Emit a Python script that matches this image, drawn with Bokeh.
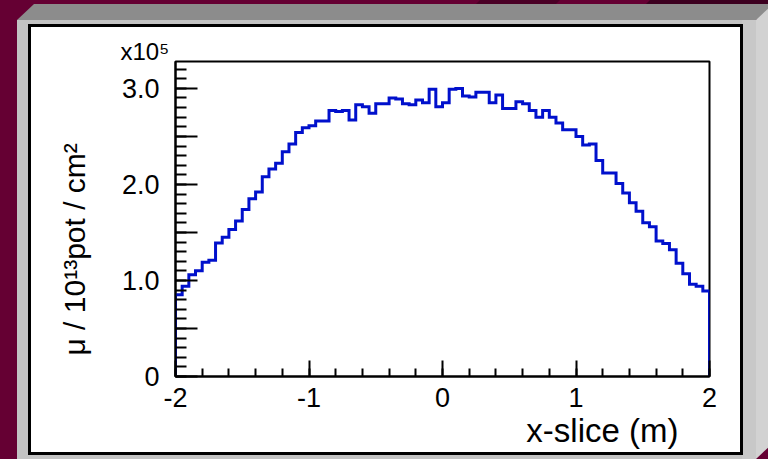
import urllib.parse
import numpy as np
from bokeh.plotting import figure
from bokeh.models import FixedTicker, Range1d, Title
from bokeh.embed import file_html
from bokeh.resources import INLINE

# ---------------- data ----------------
x_lo, x_hi = -2.0, 2.0
n_bins = 80
mu_per_bin = [
    85000, 94000, 106000, 110000, 119000, 121000, 139000, 145000, 153000, 162000,
    174000, 185000, 192000, 208000, 216000, 222000, 234000, 242000, 254000, 259000,
    261000, 266000, 266000, 277000, 276000, 277000, 267000, 283000, 281000, 274000,
    284000, 284000, 290000, 289000, 284000, 283000, 288000, 285000, 299000, 281000,
    285000, 299000, 300000, 292000, 291000, 296000, 296000, 285000, 293000, 279000,
    279000, 286000, 284000, 277000, 270000, 277000, 270000, 264000, 257000, 257000,
    250000, 241000, 242000, 225000, 212000, 212000, 201000, 191000, 181000, 172000,
    160000, 156000, 141000, 138500, 132000, 118000, 107000, 96000, 94000, 89000,
]
x_ticks = [-2, -1, 0, 1, 2]
x_tick_labels = {-2: "-2", -1: "-1", 0: "0", 1: "1", 2: "2"}
x_minor_ticks = [round(v, 1) for v in np.arange(-2.0, 2.01, 0.2)]
y_ticks = [0, 50000, 100000, 150000, 200000, 250000, 300000]
y_minor_ticks = list(range(0, 330000, 10000))
y_tick_labels = {0: "0", 50000: "", 100000: "1.0", 150000: "", 200000: "2.0", 250000: "", 300000: "3.0"}
y_max = 328000
x_title = "x-slice (m)"
y_title = "μ / 10¹³pot / cm²"
y_multiplier = "x10⁵"

# ---------------- layout constants (canvas px) ----------------
W, H = 768, 459
FL, FR, FT, FB = 175, 709, 61, 376   # frame edges
FONT = "Liberation Sans"

# page decoration (maroon background, bevelled grey frame, white pad) as a CSS background
svg_bg = (
    '<svg xmlns="http://www.w3.org/2000/svg" width="768" height="459">'
    '<rect x="0" y="0" width="768" height="459" fill="#650033"/>'
    '<polygon points="480,0 560,0 556,4 476,4" fill="#4a0026"/>'
    '<polygon points="650,0 768,0 768,4 646,4" fill="#3c0020"/>'
    '<polygon points="17,20 34,4 790,4 756,20" fill="#8c8c8c"/>'
    '<polygon points="756,20 773,4 773,443 756,459" fill="#d2d2d2"/>'
    '<rect x="17" y="20" width="739" height="450" fill="#c3c3c3"/>'
    '<rect x="742" y="20" width="14" height="450" fill="#c8c8c8"/>'
    '<rect x="29.5" y="25.5" width="712" height="428" fill="#ffffff" stroke="#000000" stroke-width="3"/>'
    '</svg>'
)
bg_uri = "data:image/svg+xml," + urllib.parse.quote(svg_bg, safe="")

p = figure(width=W, height=H, output_backend="svg", toolbar_location=None,
           x_range=Range1d(x_lo, x_hi), y_range=Range1d(0, y_max),
           min_border_left=FL, min_border_right=W - FR,
           min_border_top=FT, min_border_bottom=H - FB)
p.styles = {"background-image": f'url("{bg_uri}")',
            "background-repeat": "no-repeat",
            "background-size": f"{W}px {H}px"}
p.border_fill_color = None
p.background_fill_color = "white"
p.outline_line_color = "black"
p.outline_line_width = 2
p.outline_line_alpha = 1.0
p.xgrid.visible = False
p.ygrid.visible = False

# histogram as a step outline
edges = np.linspace(x_lo, x_hi, n_bins + 1)
vals = np.asarray(mu_per_bin, dtype=float)
hx = np.repeat(edges, 2)
hy = np.concatenate([[0.0], np.repeat(vals, 2), [0.0]])
p.line(hx, hy, line_color="#0010cc", line_width=3, line_join="miter")

# axes
for ax in (p.xaxis[0], p.yaxis[0]):
    ax.axis_line_color = "black"
    ax.axis_line_width = 2
    ax.major_tick_line_color = "black"
    ax.major_tick_line_width = 2
    ax.minor_tick_line_color = "black"
    ax.minor_tick_line_width = 2
    ax.major_tick_out = 0
    ax.minor_tick_out = 0
    ax.major_label_text_font = FONT
    ax.major_label_text_font_size = "27px"
    ax.major_label_text_color = "black"

p.xaxis.ticker = FixedTicker(ticks=x_ticks, minor_ticks=x_minor_ticks)
p.xaxis.major_label_overrides = x_tick_labels
p.xaxis.major_tick_in = 16
p.xaxis.minor_tick_in = 8
p.xaxis.major_label_standoff = 11

p.yaxis.ticker = FixedTicker(ticks=y_ticks, minor_ticks=y_minor_ticks)
p.yaxis.major_label_overrides = y_tick_labels
p.yaxis.major_tick_in = 22
p.yaxis.minor_tick_in = 11
p.yaxis.major_label_standoff = 16

# ---------------- titles (side panels) ----------------
p.add_layout(Title(text=x_title, align="right", offset=31, standoff=0,
                   text_font=FONT, text_font_size="33px", text_font_style="normal",
                   text_color="black"), "below")
p.add_layout(Title(text=y_title, align="left", offset=21, standoff=56,
                   text_font=FONT, text_font_size="30px", text_font_style="normal",
                   text_color="black"), "left")
p.add_layout(Title(text=y_multiplier, align="left", offset=-55, standoff=-6,
                   text_font=FONT, text_font_size="24px", text_font_style="normal",
                   text_color="black"), "above")

open("out.html", "w").write(file_html(p, INLINE, "plot"))
